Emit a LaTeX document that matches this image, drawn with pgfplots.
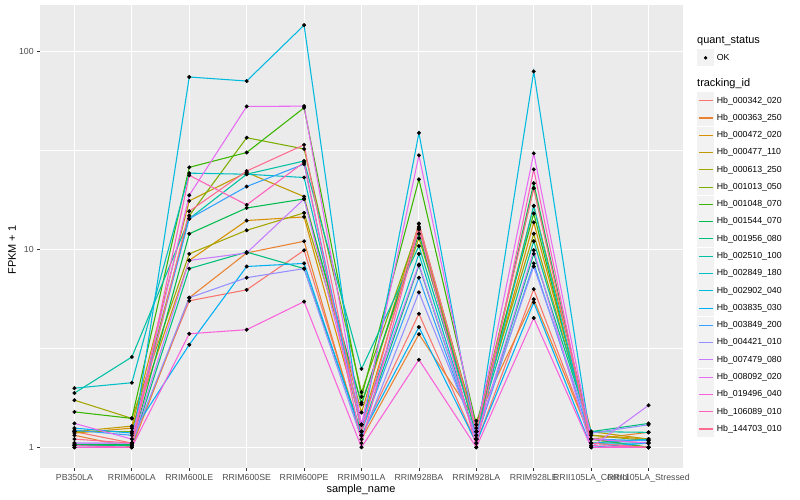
\documentclass[border=0pt]{standalone}
\usepackage{pgfplots}
\pgfplotsset{compat=1.18}
\usepackage{pgfplotstable}
\usepackage{fontspec}
\setmainfont{Liberation Sans}

\definecolor{panelbg}{HTML}{EBEBEB}
\definecolor{keybg}{HTML}{F2F2F2}
\definecolor{tickgrey}{HTML}{4D4D4D}
\definecolor{c1}{HTML}{F8766D}
\definecolor{c2}{HTML}{EA8331}
\definecolor{c3}{HTML}{D89000}
\definecolor{c4}{HTML}{C09B00}
\definecolor{c5}{HTML}{A3A500}
\definecolor{c6}{HTML}{7CAE00}
\definecolor{c7}{HTML}{39B600}
\definecolor{c8}{HTML}{00BB4E}
\definecolor{c9}{HTML}{00BF7D}
\definecolor{c10}{HTML}{00C1A3}
\definecolor{c11}{HTML}{00BFC4}
\definecolor{c12}{HTML}{00BAE0}
\definecolor{c13}{HTML}{00B0F6}
\definecolor{c14}{HTML}{35A2FF}
\definecolor{c15}{HTML}{9590FF}
\definecolor{c16}{HTML}{C77CFF}
\definecolor{c17}{HTML}{E76BF3}
\definecolor{c18}{HTML}{FA62DB}
\definecolor{c19}{HTML}{FF62BC}
\definecolor{c20}{HTML}{FF6C91}

% FPKM + 1, one row per sample, one column per tracking_id
\pgfplotstableread{
idx s1 s2 s3 s4 s5 s6 s7 s8 s9 s10 s11 s12 s13 s14 s15 s16 s17 s18 s19 s20
0  1.2  1.15 1.18 1.2  1.73 1.2  1.51 1.03 1.02 1.88 1.99 1.0   1.25 1.22 1.05 1.05 1.32 1.0  1.02 1.1
1  1.05 1.0  1.25 1.28 1.4  1.2  1.4  1.03 1.02 2.86 2.12 1.0   1.18 1.15 1.05 1.05 1.1  1.0  1.0  1.05
2  5.5  5.7  8.8  17.6 9.5  14.8 26.0 12.0 8.0  14.3 24.3 74.4  3.3  14.3 5.7  8.8  18.8 3.75 23.7 15.6
3  6.25 9.6  14.0 24.5 12.5 36.7 30.9 16.2 9.7  24.0 24.0 71.0  8.2  20.8 7.2  9.6  52.8 3.93 16.8 24.9
4  9.9  11.0 14.6 18.5 15.3 32.2 52.0 18.0 8.0  28.0 23.1 136.0 8.5  27.0 8.0  18.0 53.0 5.45 27.6 33.8
5  1.15 1.1  1.3  1.5  1.68 1.9  1.8  1.65 1.2  2.49 1.3  1.2   1.15 1.2  1.1  1.3  1.3  1.0  1.05 1.2
6  4.73 3.73 12.6 13.5 11.4 13.0 22.6 12.0 8.3  10.4 9.5  38.8  4.05 7.2  6.07 8.4  29.9 2.77 12.8 13.5
7  1.05 1.36 1.2  1.2  1.3  1.25 1.3  1.15 1.1  1.2  1.1  1.1   1.05 1.1  1.15 1.1  1.2  1.0  1.0  1.2
8  6.3  5.6  13.7 16.6 12.0 20.4 15.2 21.6 9.5  11.0 16.6 79.4  5.4  8.5  8.2  9.9  30.6 4.5  25.4 20.4
9  1.1  1.1  1.15 1.2  1.15 1.1  1.1  1.05 1.2  1.2  1.05 1.05  1.0  1.1  1.18 1.0  1.1  1.0  1.02 1.05
10 1.05 1.19 1.1  1.1  1.08 1.0  1.0  1.0  1.32 1.19 1.1  1.05  1.05 1.08 1.3  1.63 1.05 1.0  1.0  1.0
}\data

\begin{document}
\begin{tikzpicture}
\path[use as bounding box] (0,0) rectangle (800bp,500bp);

\begin{axis}[
	at={(40bp,32bp)},
	anchor=south west,
	width=643bp,
	height=463bp,
	scale only axis,
	ymode=log,
	xmin=-0.6, xmax=10.6,
	ymin=0.786, ymax=172,
	axis background/.style={fill=panelbg},
	axis line style={draw=none},
	xtick={0,...,10},
	xticklabels={PB350LA,RRIM600LA,RRIM600LE,RRIM600SE,RRIM600PE,RRIM901LA,RRIM928BA,RRIM928LA,RRIM928LE,RRII105LA\_Control,RRII105LA\_Stressed},
	ytick={1,10,100},
	yticklabels={1,10,100},
	minor ytick={3.1623,31.623},
	xmajorgrids, ymajorgrids, yminorgrids,
	major grid style={white, line width=1.07pt},
	minor grid style={white, line width=0.53pt},
	tick align=outside,
	xtick pos=bottom, ytick pos=left,
	major tick length=2.75pt,
	minor tick length=0pt,
	tick style={draw=black!80, line width=0.8pt},
	ticklabel style={font=\fontsize{8.8}{10}\selectfont, text=tickgrey},
	clip=false,
	]

	\pgfplotsinvokeforeach{1,...,20}{
		\addplot [c#1, line width=1.07pt, no marks] table [x=idx, y=s#1] {\data};
	}
	\pgfplotsinvokeforeach{1,...,20}{
		\addplot [only marks, mark=*, mark size=1.8pt, black] table [x=idx, y=s#1] {\data};
	}
\end{axis}

% axis titles
\node[font=\fontsize{11}{13}\selectfont] at (361bp,10bp) {sample\_name};
\node[font=\fontsize{11}{13}\selectfont, rotate=90] at (12bp,250bp) {FPKM + 1};

% legend: quant_status
\node[font=\fontsize{11}{13}\selectfont, anchor=west, inner sep=0pt] at (697bp,459.3bp) {quant\_status};
\fill[keybg] (697bp,433.5bp) rectangle (714.3bp,450.8bp);
\fill[black] (705.6bp,442.1bp) circle (1.8pt);
\node[font=\fontsize{8.8}{10}\selectfont, anchor=west, inner sep=0pt] at (716.7bp,442.6bp) {OK};

% legend: tracking_id
\node[font=\fontsize{11}{13}\selectfont, anchor=west, inner sep=0pt] at (697bp,416bp) {tracking\_id};
\foreach \lab [count=\i] in {Hb\_000342\_020,Hb\_000363\_250,Hb\_000472\_020,Hb\_000477\_110,Hb\_000613\_250,Hb\_001013\_050,Hb\_001048\_070,Hb\_001544\_070,Hb\_001956\_080,Hb\_002510\_100,Hb\_002849\_180,Hb\_002902\_040,Hb\_003835\_030,Hb\_003849\_200,Hb\_004421\_010,Hb\_007479\_080,Hb\_008092\_020,Hb\_019496\_040,Hb\_106089\_010,Hb\_144703\_010}{
	\pgfmathsetmacro{\yc}{399.3-(\i-1)*17.28}
	\fill[keybg] (697bp,\yc bp-8.64bp) rectangle (714.3bp,\yc bp+8.64bp);
	\draw[white, line width=0.5pt] (697bp,\yc bp-8.64bp) -- (714.3bp,\yc bp-8.64bp);
	\draw[c\i, line width=1.07pt] (698.7bp,\yc bp) -- (712.6bp,\yc bp);
	\node[font=\fontsize{8.8}{10}\selectfont, anchor=west, inner sep=0pt] at (716.7bp,\yc bp) {\lab};
}
\end{tikzpicture}
\end{document}
